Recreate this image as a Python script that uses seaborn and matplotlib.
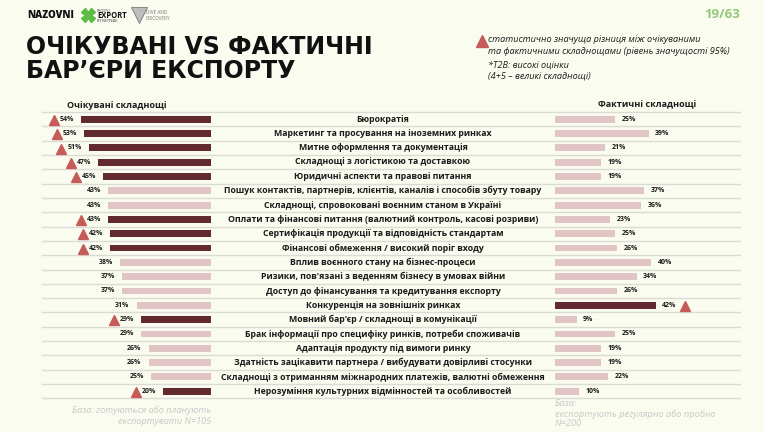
import pandas as pd
import matplotlib.pyplot as plt
import seaborn as sns

# ---------------------
# Data
# ---------------------
barriers = [
    "Бюрократія",
    "Маркетинг та просування на іноземних ринках",
    "Митне оформлення та документація",
    "Складнощі з логістикою та доставкою",
    "Юридичні аспекти та правові питання",
    "Пошук контактів, партнерів, клієнтів, каналів і способів збуту товару",
    "Складнощі, спровоковані воєнним станом в Україні",
    "Оплати та фінансові питання (валютний контроль, касові розриви)",
    "Сертифікація продукції та відповідність стандартам",
    "Фінансові обмеження / високий поріг входу",
    "Вплив воєнного стану на бізнес-процеси",
    "Ризики, пов'язані з веденням бізнесу в умовах війни",
    "Доступ до фінансування та кредитування експорту",
    "Конкуренція на зовнішніх ринках",
    "Мовний бар'єр / складнощі в комунікації",
    "Брак інформації про специфіку ринків, потреби споживачів",
    "Адаптація продукту під вимоги ринку",
    "Здатність зацікавити партнера / вибудувати довірливі стосунки",
    "Складнощі з отриманням міжнародних платежів, валютні обмеження",
    "Нерозуміння культурних відмінностей та особливостей",
]
expected = [54, 53, 51, 47, 45, 43, 43, 43, 42, 42, 38, 37, 37, 31, 29, 29, 26, 26, 25, 20]
actual = [25, 39, 21, 19, 19, 37, 36, 23, 25, 26, 40, 34, 26, 42, 9, 25, 19, 19, 22, 10]
# 1 = statistically significant difference (higher side)
sig_expected = [1, 1, 1, 1, 1, 0, 0, 1, 1, 1, 0, 0, 0, 0, 1, 0, 0, 0, 0, 1]
sig_actual = [0, 0, 0, 0, 0, 0, 0, 0, 0, 0, 0, 0, 0, 1, 0, 0, 0, 0, 0, 0]

title_lines = ["ОЧІКУВАНІ VS ФАКТИЧНІ", "БАР’ЄРИ ЕКСПОРТУ"]
left_header = "Очікувані складнощі"
right_header = "Фактичні складнощі"
base_left = ["База: готуються або планують", "експортувати N=105"]
base_right = ["База:", "експортують регулярно або пробно", "N=200"]
legend_sig = ["статистично значуща різниця між очікуваними",
              "та фактичними складнощами (рівень значущості 95%)"]
legend_t2b = ["*T2B: високі оцінки", "(4+5 – великі складнощі)"]
page = "19/63"

df = pd.DataFrame({"barrier": barriers, "expected": expected, "actual": actual,
                   "sig_e": sig_expected, "sig_a": sig_actual})

# ---------------------
# Style
# ---------------------
BG = "#FAFCF0"
DARK = "#6B2127"
LIGHT = "#E6C0C2"
TRI = "#C65B5A"
GRID = "#DCDCD6"
INK = "#1C1C1C"
GREY = "#C8C8C8"

sns.set_theme(style="white")
plt.rcParams["font.family"] = ["Open Sans", "DejaVu Sans"]

W, H = 764, 432
PX_PER_PCT = 2.4
ROW_TOP, ROW_BOT = 112, 398.4
n = len(barriers)


def box(x0, y0, x1, y1):
    # pixel box (top-left origin) -> figure rect
    return [x0 / W, 1 - y1 / H, (x1 - x0) / W, (y1 - y0) / H]


fig = plt.figure(figsize=(W / 100, H / 100), dpi=100, facecolor=BG)

# page overlay in pixel coords (header, logos, notes)
ax_pg = fig.add_axes([0, 0, 1, 1])
ax_pg.set_xlim(0, W)
ax_pg.set_ylim(H, 0)
ax_pg.axis("off")

# row separators + middle labels
ax_bg = fig.add_axes(box(42, ROW_TOP, 740, ROW_BOT))
ax_bg.set_xlim(0, 1)
ax_bg.set_ylim(n - 0.5, -0.5)
ax_bg.axis("off")
for k in range(n + 1):
    ax_bg.axhline(k - 0.5, color=GRID, lw=1.0, clip_on=False)
for i, b in enumerate(barriers):
    ax_bg.text((383 - 42) / (740 - 42), i, b, ha="center", va="center",
               fontsize=6.3, fontweight="bold", color=INK)

# ---------------------
# Left: expected
# ---------------------
ax_l = fig.add_axes(box(42, ROW_TOP, 211, ROW_BOT))
sns.barplot(data=df, y="barrier", x="expected", hue="sig_e", orient="h",
            palette={1: DARK, 0: LIGHT}, width=0.48, dodge=False,
            legend=False, linewidth=0, ax=ax_l)
ax_l.set_xlim((211 - 42) / PX_PER_PCT, 0)
ax_l.set_ylim(n - 0.5, -0.5)
ax_l.axis("off")
for i, (v, s) in enumerate(zip(expected, sig_expected)):
    ax_l.text(v + 2.9, i, f"{v}%", ha="right", va="center",
              fontsize=5, fontweight="bold", color=INK)
    if s:
        ax_l.plot(v + 11.3, i + 0.05, marker="^", ms=7.5, color=TRI,
                  mec=TRI, clip_on=False)

# ---------------------
# Right: actual
# ---------------------
ax_r = fig.add_axes(box(555, ROW_TOP, 740, ROW_BOT))
sns.barplot(data=df, y="barrier", x="actual", hue="sig_a", orient="h",
            palette={1: DARK, 0: LIGHT}, width=0.48, dodge=False,
            legend=False, linewidth=0, ax=ax_r)
ax_r.set_xlim(0, (740 - 555) / PX_PER_PCT)
ax_r.set_ylim(n - 0.5, -0.5)
ax_r.axis("off")
for i, (v, s) in enumerate(zip(actual, sig_actual)):
    ax_r.text(v + 2.7, i, f"{v}%", ha="left", va="center",
              fontsize=5, fontweight="bold", color=INK)
    if s:
        ax_r.plot(v + 12, i + 0.05, marker="^", ms=7.5, color=TRI,
                  mec=TRI, clip_on=False)

# ---------------------
# Headers and notes
# ---------------------
ax_pg.text(117, 105, left_header, ha="center", va="center",
           fontsize=6.5, fontweight="bold", color=INK)
ax_pg.text(647, 105, right_header, ha="center", va="center",
           fontsize=6.5, fontweight="bold", color=INK)

ax_pg.text(26, 47, title_lines[0], ha="left", va="center", fontsize=17,
           fontweight="heavy", color="#111111", family="DejaVu Sans")
ax_pg.text(26, 71, title_lines[1], ha="left", va="center", fontsize=17,
           fontweight="heavy", color="#111111", family="DejaVu Sans")

ax_pg.text(740, 15, page, ha="right", va="center", fontsize=9.5,
           fontweight="bold", color="#93C77A")

ax_pg.plot(482, 41, marker="^", ms=9, color=TRI, mec=TRI)
for j, line in enumerate(legend_sig):
    ax_pg.text(488, 40 + j * 11, line, ha="left", va="center", fontsize=6.6,
               style="italic", color=INK)
for j, line in enumerate(legend_t2b):
    ax_pg.text(488, 65 + j * 11, line, ha="left", va="center", fontsize=6.6,
               style="italic", color=INK)

ax_pg.text(211, 410, base_left[0], ha="right", va="center", fontsize=6.6,
           style="italic", color=GREY)
ax_pg.text(211, 421, base_left[1], ha="right", va="center", fontsize=6.6,
           style="italic", color=GREY)
for j, line in enumerate(base_right):
    ax_pg.text(555, 404 + j * 10, line, ha="left", va="center", fontsize=6.7,
               style="italic", color=GREY)

# logos (rough)
ax_pg.text(27, 15, "NAZOVNI", ha="left", va="center", fontsize=7,
           fontweight="heavy", color="#111111")
ax_pg.plot(88, 15, marker="X", ms=10, color="#5DBB46", mec="#5DBB46")
ax_pg.text(97, 10.5, "PROSTO", ha="left", va="center", fontsize=2.5, color="#333333")
ax_pg.text(97, 15.5, "EXPORT", ha="left", va="center", fontsize=5.5,
           fontweight="bold", color="#111111")
ax_pg.text(97, 20.5, "BY NETPEAK", ha="left", va="center", fontsize=2.5, color="#333333")
ax_pg.plot(139, 15, marker="v", ms=11, color="#BDBDBD", mec="#777777", mew=0.6)
ax_pg.text(146, 12, "DIVE AND", ha="left", va="center", fontsize=3.3, color="#777777")
ax_pg.text(146, 18, "DISCOVERY", ha="left", va="center", fontsize=3.3, color="#777777")

fig.savefig("out.png", dpi=100, facecolor=BG)
